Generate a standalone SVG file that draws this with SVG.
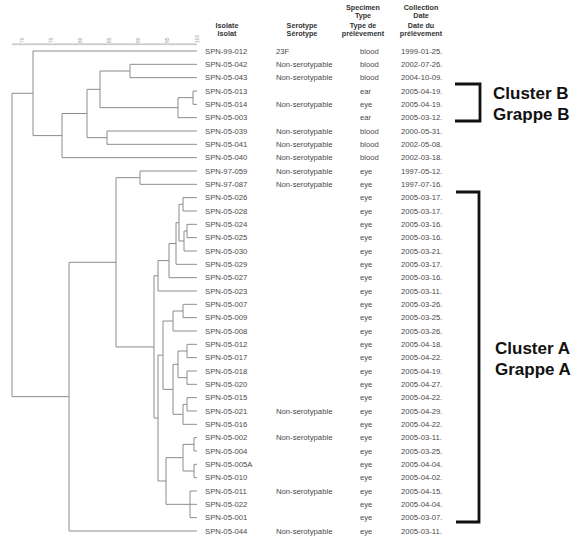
<svg xmlns="http://www.w3.org/2000/svg" width="580" height="540" viewBox="0 0 580 540">
<style>
.t{font-family:"Liberation Sans",Arial,sans-serif;font-size:7.7px;fill:#4a4a4a}
.h{font-family:"Liberation Sans",Arial,sans-serif;font-size:7.2px;font-weight:bold;fill:#333;text-anchor:middle}
.ax{font-family:"Liberation Sans",Arial,sans-serif;font-size:5px;fill:#999}
.d{fill:none;stroke:#8c8c8c;stroke-width:1}
.br{fill:none;stroke:#111;stroke-width:2.8}
.cl{font-family:"Liberation Sans",Arial,sans-serif;font-size:17px;font-weight:bold;fill:#111}
</style>
<rect width="580" height="540" fill="#fff"/>
<g id="scale">
<line x1="12" y1="44" x2="197" y2="44" stroke="#aaa" stroke-width="0.8"/>
<line x1="12" y1="44.6" x2="197" y2="44.6" stroke="#bbb" stroke-width="1.4" stroke-dasharray="0.6 0.57"/>
<text class="ax" transform="translate(24,43) rotate(-90)">70</text>
<text class="ax" transform="translate(53,43) rotate(-90)">75</text>
<text class="ax" transform="translate(82,43) rotate(-90)">80</text>
<text class="ax" transform="translate(111,43) rotate(-90)">85</text>
<text class="ax" transform="translate(140,43) rotate(-90)">90</text>
<text class="ax" transform="translate(169,43) rotate(-90)">95</text>
<text class="ax" transform="translate(199,43) rotate(-90)">100</text>
</g>
<g id="header">
<text class="h" x="227" y="27.5">Isolate</text>
<text class="h" x="227" y="35.5">Isolat</text>
<text class="h" x="302" y="27.5">Serotype</text>
<text class="h" x="302" y="35.5">Sérotype</text>
<text class="h" x="363" y="9.5">Specimen</text>
<text class="h" x="363" y="17.5">Type</text>
<text class="h" x="363" y="27.5">Type de</text>
<text class="h" x="363" y="35.5">prélèvement</text>
<text class="h" x="421" y="9.5">Collection</text>
<text class="h" x="421" y="17.5">Date</text>
<text class="h" x="421" y="27.5">Date du</text>
<text class="h" x="421" y="35.5">prélèvement</text>
</g>
<g id="connectors" class="d">
<path d="M197 64.33H130V77.67H197"/>
<path d="M197 91H193V104.33H197"/>
<path d="M193 97.67H178V117.67H197"/>
<path d="M130 71H100V107.67H178"/>
<path d="M197 131H107V144.33H197"/>
<path d="M100 89.33H87V137.67H107"/>
<path d="M87 113.5H62V157.67H197"/>
<path d="M197 51H33V135.6H62"/>
<path d="M197 171H140V184.33H197"/>
<path d="M197 197.67H183V211H197"/>
<path d="M197 224.33H187V237.67H197"/>
<path d="M187 231H184V251H197"/>
<path d="M183 204.33H179V241H184"/>
<path d="M179 222.67H176V264.33H197"/>
<path d="M176 243.5H169V277.67H197"/>
<path d="M169 260.58H158V291H197"/>
<path d="M197 304.33H183V317.67H197"/>
<path d="M183 311H173V331H197"/>
<path d="M197 344.33H187V357.67H197"/>
<path d="M197 371H187V384.33H197"/>
<path d="M187 351H178V377.67H187"/>
<path d="M197 397.67H187V411H197"/>
<path d="M187 404.33H183V424.33H197"/>
<path d="M178 364.33H173V414.33H183"/>
<path d="M173 321H163V389.33H173"/>
<path d="M197 437.67H194V451H197"/>
<path d="M197 464.33H194V477.67H197"/>
<path d="M194 444.33H183V471H194"/>
<path d="M197 491H190V517.67H197"/>
<path d="M190 504.33H197"/>
<path d="M183 457.67H166V504.33H190"/>
<path d="M163 355.17H158V481H166"/>
<path d="M158 275.8H154V418.08H158"/>
<path d="M140 177.67H116V346.94H154"/>
<path d="M116 262.3H69V531H197"/>
<path d="M33 93.3H12V396.65H69"/>
</g>
<g id="row-SPN-99-012"><text class="t" x="205" y="53.7">SPN-99-012</text><text class="t" x="276" y="53.7">23F</text><text class="t" x="360" y="53.7">blood</text><text class="t" x="401" y="53.7">1999-01-25.</text></g>
<g id="row-SPN-05-042"><text class="t" x="205" y="67">SPN-05-042</text><text class="t" x="276" y="67">Non-serotypable</text><text class="t" x="360" y="67">blood</text><text class="t" x="401" y="67">2002-07-26.</text></g>
<g id="row-SPN-05-043"><text class="t" x="205" y="80.4">SPN-05-043</text><text class="t" x="276" y="80.4">Non-serotypable</text><text class="t" x="360" y="80.4">blood</text><text class="t" x="401" y="80.4">2004-10-09.</text></g>
<g id="row-SPN-05-013"><text class="t" x="205" y="93.7">SPN-05-013</text><text class="t" x="360" y="93.7">ear</text><text class="t" x="401" y="93.7">2005-04-19.</text></g>
<g id="row-SPN-05-014"><text class="t" x="205" y="107">SPN-05-014</text><text class="t" x="276" y="107">Non-serotypable</text><text class="t" x="360" y="107">eye</text><text class="t" x="401" y="107">2005-04-19.</text></g>
<g id="row-SPN-05-003"><text class="t" x="205" y="120.4">SPN-05-003</text><text class="t" x="360" y="120.4">ear</text><text class="t" x="401" y="120.4">2005-03-12.</text></g>
<g id="row-SPN-05-039"><text class="t" x="205" y="133.7">SPN-05-039</text><text class="t" x="276" y="133.7">Non-serotypable</text><text class="t" x="360" y="133.7">blood</text><text class="t" x="401" y="133.7">2000-05-31.</text></g>
<g id="row-SPN-05-041"><text class="t" x="205" y="147">SPN-05-041</text><text class="t" x="276" y="147">Non-serotypable</text><text class="t" x="360" y="147">blood</text><text class="t" x="401" y="147">2002-05-08.</text></g>
<g id="row-SPN-05-040"><text class="t" x="205" y="160.4">SPN-05-040</text><text class="t" x="276" y="160.4">Non-serotypable</text><text class="t" x="360" y="160.4">blood</text><text class="t" x="401" y="160.4">2002-03-18.</text></g>
<g id="row-SPN-97-059"><text class="t" x="205" y="173.7">SPN-97-059</text><text class="t" x="276" y="173.7">Non-serotypable</text><text class="t" x="360" y="173.7">eye</text><text class="t" x="401" y="173.7">1997-05-12.</text></g>
<g id="row-SPN-97-087"><text class="t" x="205" y="187">SPN-97-087</text><text class="t" x="276" y="187">Non-serotypable</text><text class="t" x="360" y="187">eye</text><text class="t" x="401" y="187">1997-07-16.</text></g>
<g id="row-SPN-05-026"><text class="t" x="205" y="200.4">SPN-05-026</text><text class="t" x="360" y="200.4">eye</text><text class="t" x="401" y="200.4">2005-03-17.</text></g>
<g id="row-SPN-05-028"><text class="t" x="205" y="213.7">SPN-05-028</text><text class="t" x="360" y="213.7">eye</text><text class="t" x="401" y="213.7">2005-03-17.</text></g>
<g id="row-SPN-05-024"><text class="t" x="205" y="227">SPN-05-024</text><text class="t" x="360" y="227">eye</text><text class="t" x="401" y="227">2005-03-16.</text></g>
<g id="row-SPN-05-025"><text class="t" x="205" y="240.4">SPN-05-025</text><text class="t" x="360" y="240.4">eye</text><text class="t" x="401" y="240.4">2005-03-16.</text></g>
<g id="row-SPN-05-030"><text class="t" x="205" y="253.7">SPN-05-030</text><text class="t" x="360" y="253.7">eye</text><text class="t" x="401" y="253.7">2005-03-21.</text></g>
<g id="row-SPN-05-029"><text class="t" x="205" y="267">SPN-05-029</text><text class="t" x="360" y="267">eye</text><text class="t" x="401" y="267">2005-03-17.</text></g>
<g id="row-SPN-05-027"><text class="t" x="205" y="280.4">SPN-05-027</text><text class="t" x="360" y="280.4">eye</text><text class="t" x="401" y="280.4">2005-03-16.</text></g>
<g id="row-SPN-05-023"><text class="t" x="205" y="293.7">SPN-05-023</text><text class="t" x="360" y="293.7">eye</text><text class="t" x="401" y="293.7">2005-03-11.</text></g>
<g id="row-SPN-05-007"><text class="t" x="205" y="307">SPN-05-007</text><text class="t" x="360" y="307">eye</text><text class="t" x="401" y="307">2005-03-26.</text></g>
<g id="row-SPN-05-009"><text class="t" x="205" y="320.4">SPN-05-009</text><text class="t" x="360" y="320.4">eye</text><text class="t" x="401" y="320.4">2005-03-25.</text></g>
<g id="row-SPN-05-008"><text class="t" x="205" y="333.7">SPN-05-008</text><text class="t" x="360" y="333.7">eye</text><text class="t" x="401" y="333.7">2005-03-26.</text></g>
<g id="row-SPN-05-012"><text class="t" x="205" y="347">SPN-05-012</text><text class="t" x="360" y="347">eye</text><text class="t" x="401" y="347">2005-04-18.</text></g>
<g id="row-SPN-05-017"><text class="t" x="205" y="360.4">SPN-05-017</text><text class="t" x="360" y="360.4">eye</text><text class="t" x="401" y="360.4">2005-04-22.</text></g>
<g id="row-SPN-05-018"><text class="t" x="205" y="373.7">SPN-05-018</text><text class="t" x="360" y="373.7">eye</text><text class="t" x="401" y="373.7">2005-04-19.</text></g>
<g id="row-SPN-05-020"><text class="t" x="205" y="387">SPN-05-020</text><text class="t" x="360" y="387">eye</text><text class="t" x="401" y="387">2005-04-27.</text></g>
<g id="row-SPN-05-015"><text class="t" x="205" y="400.4">SPN-05-015</text><text class="t" x="360" y="400.4">eye</text><text class="t" x="401" y="400.4">2005-04-22.</text></g>
<g id="row-SPN-05-021"><text class="t" x="205" y="413.7">SPN-05-021</text><text class="t" x="276" y="413.7">Non-serotypable</text><text class="t" x="360" y="413.7">eye</text><text class="t" x="401" y="413.7">2005-04-29.</text></g>
<g id="row-SPN-05-016"><text class="t" x="205" y="427">SPN-05-016</text><text class="t" x="360" y="427">eye</text><text class="t" x="401" y="427">2005-04-22.</text></g>
<g id="row-SPN-05-002"><text class="t" x="205" y="440.4">SPN-05-002</text><text class="t" x="276" y="440.4">Non-serotypable</text><text class="t" x="360" y="440.4">eye</text><text class="t" x="401" y="440.4">2005-03-11.</text></g>
<g id="row-SPN-05-004"><text class="t" x="205" y="453.7">SPN-05-004</text><text class="t" x="360" y="453.7">eye</text><text class="t" x="401" y="453.7">2005-03-25.</text></g>
<g id="row-SPN-05-005A"><text class="t" x="205" y="467">SPN-05-005A</text><text class="t" x="360" y="467">eye</text><text class="t" x="401" y="467">2005-04-04.</text></g>
<g id="row-SPN-05-010"><text class="t" x="205" y="480.4">SPN-05-010</text><text class="t" x="360" y="480.4">eye</text><text class="t" x="401" y="480.4">2005-04-02.</text></g>
<g id="row-SPN-05-011"><text class="t" x="205" y="493.7">SPN-05-011</text><text class="t" x="276" y="493.7">Non-serotypable</text><text class="t" x="360" y="493.7">eye</text><text class="t" x="401" y="493.7">2005-04-15.</text></g>
<g id="row-SPN-05-022"><text class="t" x="205" y="507">SPN-05-022</text><text class="t" x="360" y="507">eye</text><text class="t" x="401" y="507">2005-04-04.</text></g>
<g id="row-SPN-05-001"><text class="t" x="205" y="520.4">SPN-05-001</text><text class="t" x="360" y="520.4">eye</text><text class="t" x="401" y="520.4">2005-03-07.</text></g>
<g id="row-SPN-05-044"><text class="t" x="205" y="533.7">SPN-05-044</text><text class="t" x="276" y="533.7">Non-serotypable</text><text class="t" x="360" y="533.7">eye</text><text class="t" x="401" y="533.7">2005-03-11.</text></g>
<g id="cluster-B">
<path class="br" d="M455 84H480V121H455"/>
<text class="cl" x="493" y="99">Cluster B</text>
<text class="cl" x="493" y="120">Grappe B</text>
</g>
<g id="cluster-A">
<path class="br" d="M456 192H479V522H456"/>
<text class="cl" x="495" y="354">Cluster A</text>
<text class="cl" x="495" y="375">Grappe A</text>
</g>
</svg>
